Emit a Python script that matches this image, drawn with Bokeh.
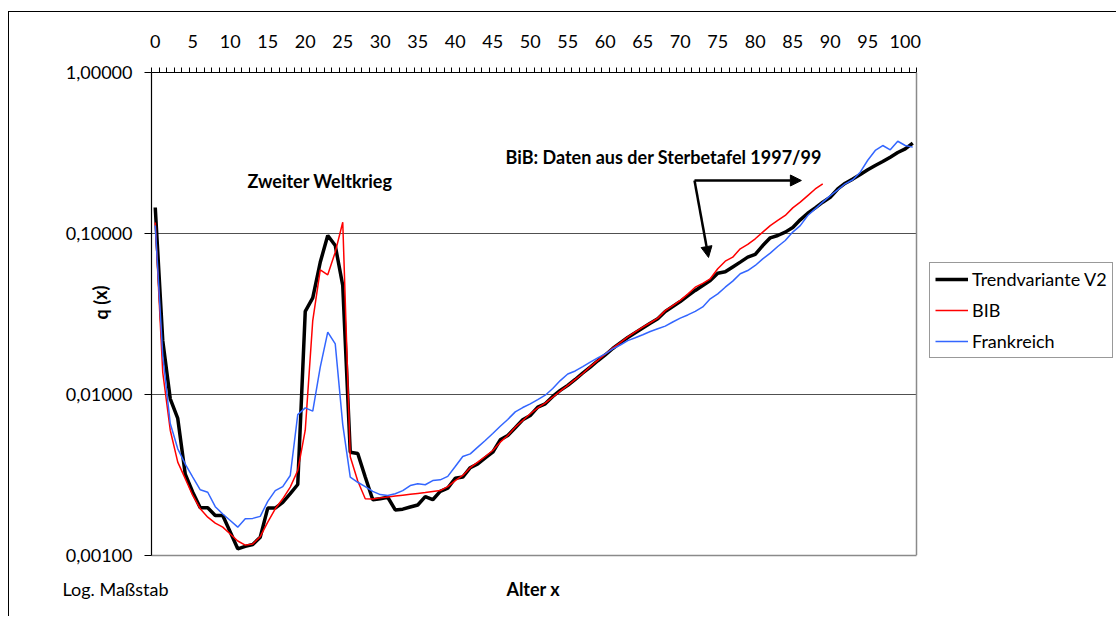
from bokeh.plotting import figure
from bokeh.models import (Range1d, FixedTicker, CustomJSTickFormatter, Label, Arrow, NormalHead,
                          LinearAxis, Span, Grid)
from bokeh.embed import file_html
from bokeh.resources import INLINE

# ---------------- data ----------------
ages_trend = list(range(0, 102))
q_trend = [0.145, 0.0216, 0.0094, 0.0071, 0.0032, 0.00247, 0.00198, 0.00198, 0.00177, 0.00177,
           0.0014, 0.0011, 0.00114, 0.00117, 0.0013, 0.00197, 0.00197, 0.00214, 0.00242, 0.00276,
           0.0328, 0.0398, 0.0663, 0.0972, 0.0842, 0.0475, 0.00438, 0.0043, 0.00307, 0.00222,
           0.00225, 0.0023, 0.00192, 0.00194, 0.0020, 0.00206, 0.00232, 0.00222, 0.0025, 0.00262,
           0.00302, 0.00307, 0.00351, 0.00371, 0.00404, 0.00438, 0.00523, 0.00556, 0.00621, 0.00697,
           0.00741, 0.00834, 0.00875, 0.00972, 0.0106, 0.0114, 0.0124, 0.0136, 0.0148, 0.0162,
           0.0176, 0.0193, 0.0209, 0.0226, 0.0242, 0.0259, 0.0277, 0.0295, 0.0328, 0.0352,
           0.0378, 0.041, 0.0443, 0.0475, 0.051, 0.0567, 0.0578, 0.062, 0.0664, 0.0713,
           0.0741, 0.0842, 0.094, 0.0972, 0.102, 0.109, 0.1216, 0.1337, 0.1443, 0.1565,
           0.168, 0.189, 0.2054, 0.2177, 0.2324, 0.2485, 0.2642, 0.28, 0.298, 0.3185,
           0.3357, 0.364]

ages_bib = list(range(0, 90))
q_bib = [0.117, 0.0137, 0.006, 0.0038, 0.003, 0.00236, 0.00195, 0.00173, 0.00159, 0.0015,
         0.00136, 0.00123, 0.00116, 0.00118, 0.00131, 0.00161, 0.00195, 0.00225, 0.00266, 0.00337,
         0.006, 0.0288, 0.0595, 0.0554, 0.0766, 0.1175, 0.0041, 0.0029, 0.00225, 0.00224,
         0.00228, 0.00231, 0.00234, 0.00237, 0.0024, 0.00243, 0.00246, 0.0025, 0.00253, 0.00268,
         0.00292, 0.00314, 0.00351, 0.0038, 0.00412, 0.00449, 0.00506, 0.00556, 0.00627, 0.0069,
         0.00759, 0.00826, 0.00883, 0.00962, 0.0105, 0.0114, 0.0124, 0.0135, 0.0149, 0.0163,
         0.0178, 0.0194, 0.021, 0.0228, 0.0245, 0.0262, 0.0279, 0.0298, 0.0332, 0.0357,
         0.0384, 0.042, 0.0464, 0.049, 0.0523, 0.0604, 0.0673, 0.0713, 0.0803, 0.0855,
         0.0927, 0.102, 0.112, 0.1205, 0.1294, 0.1443, 0.1565, 0.172, 0.189, 0.2036]

ages_fr = list(range(0, 102))
q_fr = [0.112, 0.0175, 0.0066, 0.0046, 0.0037, 0.00307, 0.00256, 0.00247, 0.00201, 0.00181,
        0.00165, 0.0015, 0.00169, 0.0017, 0.00175, 0.00217, 0.00253, 0.00268, 0.00314, 0.0075,
        0.00826, 0.00788, 0.0148, 0.0244, 0.0206, 0.0065, 0.00307, 0.00285, 0.00268, 0.0025,
        0.00239, 0.00236, 0.00242, 0.00253, 0.00272, 0.00279, 0.00275, 0.00292, 0.00295, 0.0031,
        0.00357, 0.00412, 0.00428, 0.00471, 0.00518, 0.00572, 0.00635, 0.0070, 0.0078, 0.0083,
        0.00875, 0.0093, 0.0099, 0.0109, 0.0122, 0.0134, 0.014, 0.0149, 0.0159, 0.0169,
        0.0179, 0.0192, 0.0203, 0.0216, 0.0225, 0.0235, 0.0246, 0.0256, 0.0266, 0.0282,
        0.0298, 0.0312, 0.0328, 0.035, 0.0393, 0.0422, 0.0464, 0.0506, 0.0562, 0.0589,
        0.0633, 0.0696, 0.0755, 0.083, 0.0905, 0.102, 0.112, 0.1294, 0.1422, 0.1565,
        0.172, 0.1868, 0.2036, 0.2158, 0.2404, 0.285, 0.328, 0.352, 0.331, 0.374,
        0.352, 0.344]

x_labels = list(range(0, 101, 5))
y_ticks = [0.001, 0.01, 0.1, 1.0]
x_cat_edges = [i - 0.5 for i in range(0, 103)]   # category boundaries (tick marks)

FONT = "Lato"
X_LO, X_HI = -0.5, 101.5          # extent of the plot area (categories 0..101)
FRAME_W = 1108 - 142              # frame runs to the canvas edge so the legend stays inside
X_VIEW_HI = X_LO + FRAME_W / 7.5  # 7.5 px per year, as in the original

# ---------------- figure ----------------
p = figure(width=1108, height=605, y_axis_type="log", x_axis_location="above",
           x_range=Range1d(X_LO, X_VIEW_HI), y_range=Range1d(0.001, 1.0),
           output_backend="svg", toolbar_location=None,
           min_border_left=142, min_border_right=0, min_border_top=60, min_border_bottom=62)
p.styles = {"margin-left": "8px", "margin-top": "11px",
            "border-left": "1px solid black", "border-top": "1px solid black"}
p.background_fill_color = "white"
p.border_fill_color = "white"
p.outline_line_color = None

# top x axis
xa = p.xaxis[0]
xa.bounds = (X_LO, X_HI)
xa.ticker = FixedTicker(ticks=x_labels, minor_ticks=x_cat_edges)
xa.formatter = CustomJSTickFormatter(code="return tick.toFixed(0);")
xa.major_tick_out = 0
xa.major_tick_in = 0
xa.minor_tick_out = 5
xa.minor_tick_in = 0
xa.minor_tick_line_color = "black"
xa.axis_line_color = "black"
xa.axis_line_width = 1.2
xa.major_label_text_font = FONT
xa.major_label_text_font_size = "18px"
xa.major_label_text_color = "black"
xa.major_label_standoff = 20

# left y axis
ya = p.yaxis[0]
yt = FixedTicker(ticks=y_ticks)
ya.ticker = yt
ya.formatter = CustomJSTickFormatter(code="return tick.toFixed(5).replace('.', ',');")
ya.major_tick_out = 7
ya.major_tick_in = 0
ya.minor_tick_line_color = None
ya.axis_line_color = "black"
ya.axis_line_width = 1.2
ya.major_label_text_font = FONT
ya.major_label_text_font_size = "18px"
ya.major_label_text_color = "black"
ya.major_label_standoff = 12

# bottom edge of the plot area: a bare axis limited to the plot area
bax = LinearAxis(bounds=(X_LO, X_HI), ticker=FixedTicker(ticks=[]),
                 axis_line_color="#8a8a8a", axis_line_width=1.5,
                 major_tick_line_color=None, minor_tick_line_color=None,
                 major_label_text_font_size="0px")
p.add_layout(bax, "below")

# right edge of the plot area
p.add_layout(Span(location=X_HI, dimension="height", line_color="#8a8a8a", line_width=1.5))

# horizontal gridlines limited to the plot area
p.xgrid.visible = False
g = p.ygrid[0]
g.ticker = yt
g.grid_line_color = "#505050"
g.grid_line_width = 1
if "cross_bounds" in Grid.properties():
    g.cross_bounds = (X_LO, X_HI)
else:
    g.visible = False
    p.segment(x0=[X_LO] * len(y_ticks), x1=[X_HI] * len(y_ticks), y0=y_ticks, y1=y_ticks,
              line_color="#505050", line_width=1)

# series
p.line(ages_trend, q_trend, line_color="black", line_width=3.5, legend_label="Trendvariante V2")
p.line(ages_bib, q_bib, line_color="#ff0000", line_width=1.5, legend_label="BIB")
p.line(ages_fr, q_fr, line_color="#3366ff", line_width=1.5, legend_label="Frankreich")

leg = p.legend[0]
leg.location = (778, 197)
leg.margin = 0
leg.label_text_font = FONT
leg.label_text_font_size = "18px"
leg.label_text_color = "black"
leg.glyph_width = 33
leg.glyph_height = 20
leg.label_height = 20
leg.label_standoff = 4
leg.spacing = 9
leg.padding = 5
leg.border_line_color = "#333333"
leg.border_line_width = 1
leg.background_fill_color = "white"
leg.background_fill_alpha = 1.0

# annotations inside the plot area
p.add_layout(Label(x=12.3, y=0.2104, text="Zweiter Weltkrieg", text_font=FONT,
                   text_font_size="18px", text_font_style="bold", text_color="black",
                   text_baseline="alphabetic"))
p.add_layout(Label(x=46.7, y=0.2978, text="BiB: Daten aus der Sterbetafel 1997/99", text_font=FONT,
                   text_font_size="18px", text_font_style="bold", text_color="black",
                   text_baseline="alphabetic"))
p.add_layout(Arrow(end=NormalHead(size=11, fill_color="black", line_color="black"),
                   x_start=71.9, y_start=0.2134, x_end=86.15, y_end=0.2134,
                   line_color="black", line_width=2.5))
p.add_layout(Arrow(end=NormalHead(size=11, fill_color="black", line_color="black"),
                   x_start=71.9, y_start=0.2134, x_end=73.77, y_end=0.0710,
                   line_color="black", line_width=2.5))

# texts outside the plot area (side panels, so not clipped to the frame)
p.add_layout(Label(x=-12.37, y=0.000615, text="Log. Maßstab", text_font=FONT,
                   text_font_size="18px", text_color="black", text_baseline="alphabetic"), "below")
p.add_layout(Label(x=50.4, y=0.000615, text="Alter x", text_font=FONT,
                   text_font_size="18px", text_font_style="bold", text_color="black",
                   text_align="center", text_baseline="alphabetic"), "below")
p.add_layout(Label(x=-7.3, y=0.0373, text="q (x)", text_font=FONT, angle=1.5708,
                   text_font_size="18px", text_font_style="bold", text_color="black",
                   text_align="center", text_baseline="middle"), "left")

open("out.html", "w").write(file_html(p, INLINE))
